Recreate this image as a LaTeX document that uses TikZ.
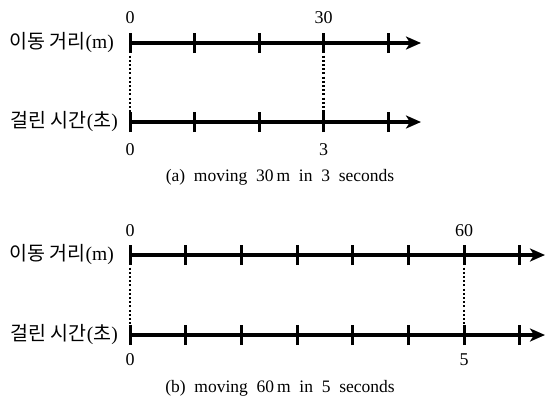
\documentclass[tikz,border=0pt]{standalone}
\usepackage{fontspec}
\setmainfont{Liberation Serif}
\newfontfamily\kofont{Noto Sans CJK KR}
\usetikzlibrary{arrows.meta}

\begin{document}
\begin{tikzpicture}[x=1pt, y=-1pt,
    axis/.style={draw=black, line width=4.2pt, -{Stealth[length=15pt, width=13pt, inset=4pt]}},
    tickmark/.style={draw=black, line width=3pt},
    guide/.style={draw=black, line width=2.2pt, dash pattern=on 2pt off 2.2pt},
    num/.style={font=\fontsize{18}{20}\selectfont, inner sep=0pt},
    side/.style={font=\fontsize{19.5}{20}\selectfont, inner sep=0pt, anchor=east},
    captext/.style={font=\fontsize{17.5}{20}\selectfont, inner sep=0pt},
  ]
  \useasboundingbox (0,0) rectangle (545,399);

  %% ================= (a) 30 m in 3 seconds =================
  \foreach \i in {0,...,4} {
    \coordinate (aT\i) at ({130+\i*64.5},43);
    \coordinate (aB\i) at ({130+\i*64.5},122);
  }
  \coordinate (aTend) at (421,43);
  \coordinate (aBend) at (421,122);
  \draw[guide] (aT0) -- (aB0);
  \draw[guide] (aT3) -- (aB3);
  \draw[axis] (aT0) -- (aTend);
  \draw[axis] (aB0) -- (aBend);
  \foreach \i in {0,...,4} {
    \draw[tickmark] ([yshift=-10pt]aT\i) -- ([yshift=10pt]aT\i);
    \draw[tickmark] ([yshift=-10pt]aB\i) -- ([yshift=10pt]aB\i);
  }
  \node[side] (aDist) at (114,43) {{\kofont 이동 거리}(m)};
  \node[side] (aTime) at (118,122) {{\kofont 걸린 시간}({\kofont 초})};
  \node[num] (aD0) at (130,18) {0};
  \node[num] (aD3) at (323.5,18) {30};
  \node[num] (aS0) at (130,150) {0};
  \node[num] (aS3) at (323.5,150) {3};
  \node[captext] (aCap) at (280,177) {(a)\ \ moving\ \ 30\,m\ \ in\ \ 3\ \ seconds};

  %% ================= (b) 60 m in 5 seconds =================
  \foreach \i in {0,...,7} {
    \coordinate (bT\i) at ({130+\i*55.7},255);
    \coordinate (bB\i) at ({130+\i*55.7},335);
  }
  \coordinate (bTend) at (545,255);
  \coordinate (bBend) at (545,335);
  \draw[guide] (bT0) -- (bB0);
  \draw[guide] (bT6) -- (bB6);
  \draw[axis] (bT0) -- (bTend);
  \draw[axis] (bB0) -- (bBend);
  \foreach \i in {0,...,7} {
    \draw[tickmark] ([yshift=-10pt]bT\i) -- ([yshift=10pt]bT\i);
    \draw[tickmark] ([yshift=-10pt]bB\i) -- ([yshift=10pt]bB\i);
  }
  \node[side] (bDist) at (114,255) {{\kofont 이동 거리}(m)};
  \node[side] (bTime) at (118,335) {{\kofont 걸린 시간}({\kofont 초})};
  \node[num] (bD0) at (130,231) {0};
  \node[num] (bD6) at (464,231) {60};
  \node[num] (bS0) at (130,360) {0};
  \node[num] (bS6) at (464,360) {5};
  \node[captext] (bCap) at (280,388) {(b)\ \ moving\ \ 60\,m\ \ in\ \ 5\ \ seconds};

\end{tikzpicture}
\end{document}
